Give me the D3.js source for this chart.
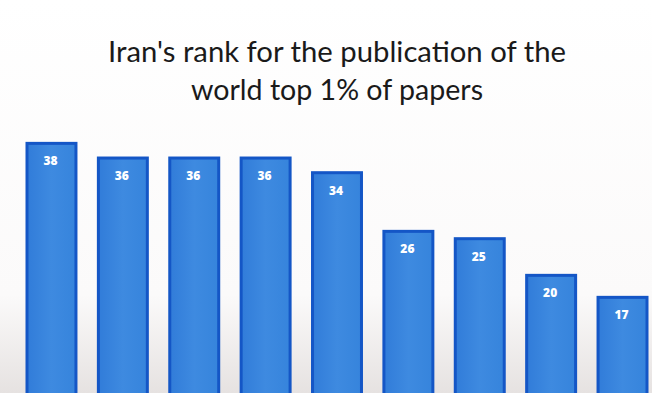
<!DOCTYPE html>
<html>
<head>
<meta charset="utf-8">
<script src="https://cdn.jsdelivr.net/npm/d3@7"></script>
<style>
  html, body { margin: 0; padding: 0; background: #ffffff; }
  svg { display: block; }
</style>
</head>
<body>
<svg id="chart" width="652" height="393"></svg>
<script>
// Data
const categories = ["1", "2", "3", "4", "5", "6", "7", "8", "9"];
const values = [38, 36, 36, 36, 34, 26, 25, 20, 17];
const titleLines = ["Iran's rank for the publication of the", "world top 1% of papers"];

const W = 652, H = 393;
const svg = d3.select("#chart");

const defs = svg.append("defs");
const bg = defs.append("linearGradient").attr("id", "bg").attr("x1", 0).attr("y1", 0).attr("x2", 0).attr("y2", 1);
bg.append("stop").attr("offset", "0%").attr("stop-color", "#ffffff");
bg.append("stop").attr("offset", "75%").attr("stop-color", "#fbfafa");
bg.append("stop").attr("offset", "100%").attr("stop-color", "#e6e2e1");

const barGrad = defs.append("linearGradient").attr("id", "barGrad").attr("x1", 0).attr("y1", 0).attr("x2", 1).attr("y2", 0);
barGrad.append("stop").attr("offset", "0%").attr("stop-color", "#317cd9");
barGrad.append("stop").attr("offset", "50%").attr("stop-color", "#3e8ae0");
barGrad.append("stop").attr("offset", "100%").attr("stop-color", "#3684dc");

svg.append("rect").attr("width", W).attr("height", H).attr("fill", "url(#bg)");

// Title
const titleWidths = [458, 292];
const title = svg.append("g").attr("font-family", "Lato, 'Open Sans', sans-serif")
  .attr("font-size", 28).attr("fill", "#1a1a1a").attr("text-anchor", "middle");
title.selectAll("text").data(titleLines).join("text")
  .attr("x", 337)
  .attr("y", (d, i) => 62 + i * 38)
  .attr("textLength", (d, i) => titleWidths[i])
  .attr("lengthAdjust", "spacingAndGlyphs")
  .text(d => d);

// Scales
const x = d3.scaleBand().domain(categories).range([27, 647]).paddingInner(0.314).paddingOuter(0);
const y = d3.scaleLinear().domain([0, 40]).range([422, 128.7]);

const bars = svg.append("g");
bars.selectAll("rect").data(values).join("rect")
  .attr("x", (d, i) => x(categories[i]))
  .attr("y", d => y(d))
  .attr("width", x.bandwidth())
  .attr("height", d => y(0) - y(d))
  .attr("fill", "url(#barGrad)")
  .attr("stroke", "#1456c6")
  .attr("stroke-width", 3);

svg.append("g").selectAll("text").data(values).join("text")
  .attr("x", (d, i) => x(categories[i]) + x.bandwidth() / 2 - 1)
  .attr("y", d => y(d) + 22)
  .attr("text-anchor", "middle")
  .attr("font-family", "'Open Sans', sans-serif")
  .attr("font-weight", "800")
  .attr("font-size", 12)
  .attr("fill", "#ffffff")
  .text(d => d);
</script>
</body>
</html>
